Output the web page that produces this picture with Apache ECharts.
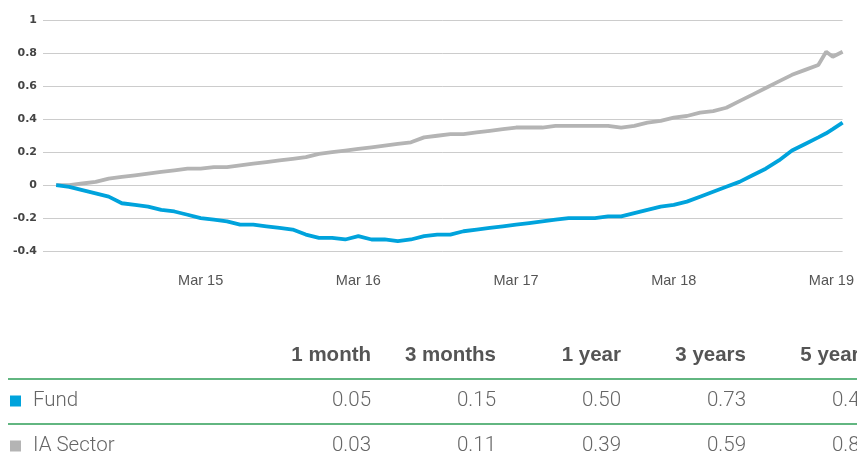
<!DOCTYPE html>
<html>
<head>
<meta charset="utf-8">
<script src="https://cdn.jsdelivr.net/npm/echarts@6/dist/echarts.min.js"></script>
<style>
  html, body { margin: 0; padding: 0; background: #fff; }
  #chart { width: 857px; height: 465px; }
</style>
</head>
<body>
<div id="chart"></div>
<script>
// months since Mar 2014
const months = [
  1, 2, 3, 4, 5, 6, 7, 8, 9, 10, 11, 12, 13, 14, 15, 16, 17, 18, 19, 20,
  21, 22, 23, 24, 25, 26, 27, 28, 29, 30, 31, 32, 33, 34, 35, 36, 37, 38, 39, 40,
  41, 42, 43, 44, 45, 46, 47, 48, 49, 50, 51, 52, 53, 54, 55, 56, 57, 58, 59, 59.6,
  60.1, 60.85
];
const fundValues = [
  0.00, -0.01, -0.03, -0.05, -0.07, -0.11, -0.12, -0.13, -0.15, -0.16,
  -0.18, -0.20, -0.21, -0.22, -0.24, -0.24, -0.25, -0.26, -0.27, -0.30,
  -0.32, -0.32, -0.33, -0.31, -0.33, -0.33, -0.34, -0.33, -0.31, -0.30,
  -0.30, -0.28, -0.27, -0.26, -0.25, -0.24, -0.23, -0.22, -0.21, -0.20,
  -0.20, -0.20, -0.19, -0.19, -0.17, -0.15, -0.13, -0.12, -0.10, -0.07,
  -0.04, -0.01, 0.02, 0.06, 0.10, 0.15, 0.21, 0.25, 0.29, 0.315,
  0.34, 0.38
];
const sectorValues = [
  0.00, 0.00, 0.01, 0.02, 0.04, 0.05, 0.06, 0.07, 0.08, 0.09,
  0.10, 0.10, 0.11, 0.11, 0.12, 0.13, 0.14, 0.15, 0.16, 0.17,
  0.19, 0.20, 0.21, 0.22, 0.23, 0.24, 0.25, 0.26, 0.29, 0.30,
  0.31, 0.31, 0.32, 0.33, 0.34, 0.35, 0.35, 0.35, 0.36, 0.36,
  0.36, 0.36, 0.36, 0.35, 0.36, 0.38, 0.39, 0.41, 0.42, 0.44,
  0.45, 0.47, 0.51, 0.55, 0.59, 0.63, 0.67, 0.70, 0.73, 0.81,
  0.78, 0.81
];
const tickMonths = [12, 24, 36, 48, 60];
const tickLabels = ['Mar 15', 'Mar 16', 'Mar 17', 'Mar 18', 'Mar 19'];

// table
const periods = ['1 month', '3 months', '1 year', '3 years', '5 years'];
const rowNames = ['Fund', 'IA Sector'];
const fundPerf = ['0.05', '0.15', '0.50', '0.73', '0.41'];
const sectorPerf = ['0.03', '0.11', '0.39', '0.59', '0.81'];

const FUND_COLOR = '#00a3dc';
const SECTOR_COLOR = '#b4b4b4';
const RULE_COLOR = '#2e9e57';

const chart = echarts.init(document.getElementById('chart'));

// 表格部分
const colRight = [371, 496, 621, 746, 871];
const rowY = [401, 446];
const rowColors = [FUND_COLOR, SECTOR_COLOR];
const rowPerf = [fundPerf, sectorPerf];
const headFont = 'bold 20.5px "Liberation Sans", Arial, sans-serif';
const cellFont = '300 20.5px Roboto, Arial, sans-serif';
const graphics = [];
periods.forEach((p, i) => {
  graphics.push({
    type: 'text',
    style: {
      x: colRight[i], y: 355, text: p,
      textAlign: 'right', textVerticalAlign: 'middle',
      font: headFont, fill: '#555'
    }
  });
});
[379, 424].forEach(y => {
  graphics.push({
    type: 'line',
    shape: { x1: 8, y1: y, x2: 857, y2: y },
    style: { stroke: RULE_COLOR, lineWidth: 1.5 }
  });
});
rowNames.forEach((name, r) => {
  graphics.push({
    type: 'rect',
    shape: { x: 10, y: rowY[r] - 5.5, width: 11, height: 11 },
    style: { fill: rowColors[r] }
  });
  graphics.push({
    type: 'text',
    style: {
      x: 33, y: rowY[r], text: name,
      textAlign: 'left', textVerticalAlign: 'middle',
      font: cellFont, fill: '#666'
    }
  });
  rowPerf[r].forEach((v, i) => {
    graphics.push({
      type: 'text',
      style: {
        x: colRight[i], y: rowY[r], text: v,
        textAlign: 'right', textVerticalAlign: 'middle',
        font: cellFont, fill: '#666'
      }
    });
  });
});

const option = {
  animation: false,
  grid: { left: 43, right: 12, top: 20.5, bottom: 214, containLabel: false },
  xAxis: {
    type: 'value',
    min: 0,
    max: 60.85,
    interval: 12,
    axisLine: { show: false },
    axisTick: { show: false },
    splitLine: { show: false },
    axisLabel: {
      margin: 22,
      fontSize: 14.5,
      color: '#555',
      fontFamily: '"Liberation Sans", Arial, sans-serif',
      formatter: v => {
        const i = tickMonths.indexOf(Math.round(v * 100) / 100);
        return i >= 0 ? tickLabels[i] : '';
      }
    }
  },
  yAxis: {
    type: 'value',
    min: -0.4,
    max: 1,
    interval: 0.2,
    axisLine: { show: false },
    axisTick: { show: false },
    splitLine: { lineStyle: { color: '#cccccc', width: 1 } },
    axisLabel: {
      margin: 6,
      fontSize: 11,
      fontWeight: 'bold',
      color: '#444',
      fontFamily: '"DejaVu Sans", Verdana, sans-serif'
    }
  },
  series: [
    {
      name: 'IA Sector',
      type: 'line',
      showSymbol: false,
      data: months.map((m, i) => [m, sectorValues[i]]),
      lineStyle: { color: SECTOR_COLOR, width: 3.8 },
      itemStyle: { color: SECTOR_COLOR }
    },
    {
      name: 'Fund',
      type: 'line',
      showSymbol: false,
      data: months.map((m, i) => [m, fundValues[i]]),
      lineStyle: { color: FUND_COLOR, width: 3.8 },
      itemStyle: { color: FUND_COLOR }
    }
  ],
  graphic: graphics
};

chart.setOption(option);
</script>
</body>
</html>
